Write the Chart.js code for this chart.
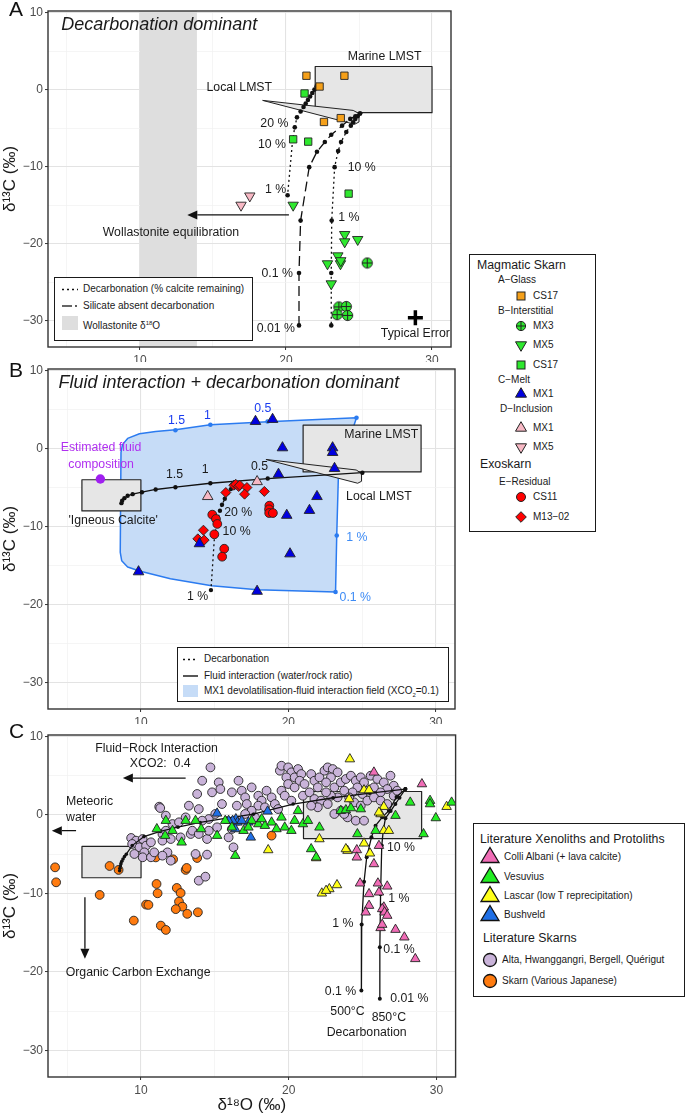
<!DOCTYPE html>
<html>
<head>
<meta charset="utf-8">
<script src="https://cdn.jsdelivr.net/npm/chart.js@4.4.1/dist/chart.umd.min.js"></script>
<style>
  body { margin: 0; background: #fff; font-family: "Liberation Sans", Arial, sans-serif; }
  #wrap { position: relative; width: 685px; height: 1117px; overflow: hidden; }
  canvas { position: absolute; left: 0; }
  .box { position: absolute; border: 1.3px solid #1a1a1a; background: #fff; box-sizing: border-box; }
  .t { position: absolute; font-size: 10px; line-height: 12px; color: #1a1a1a; white-space: nowrap; }
  .h { position: absolute; font-size: 12.3px; line-height: 14px; color: #1a1a1a; white-space: nowrap; }
  svg.s { position: absolute; overflow: visible; }
</style>
</head>
<body>
<div id="wrap">
  <canvas id="chartA" width="462" height="362" style="top:0"></canvas>
  <canvas id="chartB" width="462" height="362" style="top:362px"></canvas>
  <canvas id="chartC" width="462" height="395" style="top:722px"></canvas>

  <!-- legend inside panel A -->
  <div class="box" style="left:54px;top:277px;width:199px;height:64px"></div>
  <svg class="s" style="left:0;top:0" width="1" height="1">
    <line x1="62" y1="289.5" x2="78" y2="289.5" stroke="#111" stroke-width="1.3" stroke-dasharray="2,3"/>
    <line x1="62" y1="306" x2="72" y2="306" stroke="#111" stroke-width="1.3"/>
    <circle cx="76" cy="306" r="0.9" fill="#111"/>
    <rect x="62" y="316" width="16" height="14" fill="#dedede"/>
  </svg>
  <div class="t" style="left:83px;top:283px">Decarbonation (% calcite remaining)</div>
  <div class="t" style="left:83px;top:300px">Silicate absent decarbonation</div>
  <div class="t" style="left:83px;top:317px">Wollastonite δ<sup style="font-size:6px">18</sup>O</div>

  <!-- legend inside panel B -->
  <div class="box" style="left:177px;top:647px;width:272px;height:55px"></div>
  <svg class="s" style="left:0;top:0" width="1" height="1">
    <line x1="183" y1="659.5" x2="198" y2="659.5" stroke="#111" stroke-width="1.3" stroke-dasharray="2,3"/>
    <line x1="183" y1="676" x2="198" y2="676" stroke="#111" stroke-width="1.4"/>
    <rect x="183" y="685" width="15" height="12" fill="#c6dcf7"/>
  </svg>
  <div class="t" style="left:204px;top:653px">Decarbonation</div>
  <div class="t" style="left:204px;top:670px">Fluid interaction (water/rock ratio)</div>
  <div class="t" style="left:204px;top:685px">MX1 devolatilisation-fluid interaction field (XCO<sub style="font-size:6px">2</sub>=0.1)</div>

  <!-- magmatic skarn / exoskarn legend -->
  <div class="box" style="left:469px;top:254px;width:127px;height:278px"></div>
  <div class="h" style="left:477px;top:258px">Magmatic Skarn</div>
  <div class="t" style="left:498px;top:274px">A−Glass</div>
  <svg class="s" style="left:521px;top:296px" width="1" height="1"><rect x="-4" y="-4" width="8" height="8" fill="#f5a01a" stroke="#222" stroke-width="1"/></svg>
  <div class="t" style="left:533px;top:290px">CS17</div>
  <div class="t" style="left:498px;top:305px">B−Interstitial</div>
  <svg class="s" style="left:521px;top:326px" width="1" height="1"><circle r="4.6" fill="#2ee82e" stroke="#222" stroke-width="1"/><path d="M-4.6 0H4.6M0 -4.6V4.6" stroke="#222" stroke-width="1"/></svg>
  <div class="t" style="left:533px;top:320px">MX3</div>
  <svg class="s" style="left:521px;top:345px" width="1" height="1"><polygon points="0,6.3 5.5,-3.2 -5.5,-3.2" fill="#2ee82e" stroke="#222" stroke-width="1"/></svg>
  <div class="t" style="left:533px;top:339px">MX5</div>
  <svg class="s" style="left:521px;top:365px" width="1" height="1"><rect x="-4" y="-4" width="8" height="8" fill="#2ee82e" stroke="#222" stroke-width="1"/></svg>
  <div class="t" style="left:533px;top:359px">CS17</div>
  <div class="t" style="left:498px;top:374px">C−Melt</div>
  <svg class="s" style="left:521px;top:394px" width="1" height="1"><polygon points="0,-6.3 5.5,3.2 -5.5,3.2" fill="#0000e0" stroke="#222" stroke-width="1"/></svg>
  <div class="t" style="left:533px;top:388px">MX1</div>
  <div class="t" style="left:500px;top:403px">D−Inclusion</div>
  <svg class="s" style="left:521px;top:428px" width="1" height="1"><polygon points="0,-6.3 5.5,3.2 -5.5,3.2" fill="#f7b8c4" stroke="#222" stroke-width="1"/></svg>
  <div class="t" style="left:533px;top:422px">MX1</div>
  <svg class="s" style="left:521px;top:447px" width="1" height="1"><polygon points="0,6.3 5.5,-3.2 -5.5,-3.2" fill="#f7b8c4" stroke="#222" stroke-width="1"/></svg>
  <div class="t" style="left:533px;top:441px">MX5</div>
  <div class="h" style="left:480px;top:457px">Exoskarn</div>
  <div class="t" style="left:499px;top:476px">E−Residual</div>
  <svg class="s" style="left:521px;top:497px" width="1" height="1"><circle r="4.5" fill="#ff0000" stroke="#222" stroke-width="1"/></svg>
  <div class="t" style="left:533px;top:491px">CS11</div>
  <svg class="s" style="left:521px;top:517px" width="1" height="1"><polygon points="0,-5.3 5.3,0 0,5.3 -5.3,0" fill="#ff0000" stroke="#222" stroke-width="1"/></svg>
  <div class="t" style="left:533px;top:511px">M13−02</div>

  <!-- literature legend -->
  <div class="box" style="left:473px;top:823px;width:212px;height:174px"></div>
  <div class="h" style="left:480px;top:832px">Literature Xenoliths and Protoliths</div>
  <svg class="s" style="left:490px;top:857px" width="1" height="1"><polygon points="0,-9.5 9,5.5 -9,5.5" fill="#f06cb6" stroke="#111" stroke-width="1.3"/></svg>
  <div class="t" style="left:504px;top:851px">Colli Albani (+ lava calcite)</div>
  <svg class="s" style="left:490px;top:877px" width="1" height="1"><polygon points="0,-9.5 9,5.5 -9,5.5" fill="#22ee22" stroke="#111" stroke-width="1.3"/></svg>
  <div class="t" style="left:504px;top:871px">Vesuvius</div>
  <svg class="s" style="left:490px;top:896px" width="1" height="1"><polygon points="0,-9.5 9,5.5 -9,5.5" fill="#ffff1a" stroke="#111" stroke-width="1.3"/></svg>
  <div class="t" style="left:504px;top:890px">Lascar (low T reprecipitation)</div>
  <svg class="s" style="left:490px;top:915px" width="1" height="1"><polygon points="0,-9.5 9,5.5 -9,5.5" fill="#1f6fe6" stroke="#111" stroke-width="1.3"/></svg>
  <div class="t" style="left:504px;top:909px">Bushveld</div>
  <div class="h" style="left:483px;top:931px">Literature Skarns</div>
  <svg class="s" style="left:490px;top:960px" width="1" height="1"><circle r="6.5" fill="#c9b3d9" stroke="#111" stroke-width="1.3"/></svg>
  <div class="t" style="left:502px;top:954px">Alta, Hwanggangri, Bergell, Quérigut</div>
  <svg class="s" style="left:490px;top:981px" width="1" height="1"><circle r="6.5" fill="#ff7b0f" stroke="#111" stroke-width="1.3"/></svg>
  <div class="t" style="left:502px;top:975px">Skarn (Various Japanese)</div>
</div>

<script>
// shared axes
const xRange = [3.7, 31.3];
const yRange = [-33.4, 10.2];
const xTicks = [5, 10, 15, 20, 25, 30];
const yTicks = [-30, -25, -20, -15, -10, -5, 0, 5, 10];

// ---- panel A : decarbonation dominant ----
const aGlassCS17 = [[21.4, 1.8], [24.0, 1.8], [22.3, 0.4], [22.6, -4.2], [23.75, -3.7]];
const aInterMX3 = [[25.56, -22.5], [23.62, -28.2], [24.13, -28.15], [23.5, -29.2], [24.22, -29.3]];
const aInterMX5 = [[20.49, -15.0], [24.02, -18.8], [24.02, -19.75], [24.91, -19.45], [23.55, -21.57],
  [22.84, -22.6], [23.73, -22.6], [23.75, -22.2], [23.1, -25.2]];
const aInterCS17 = [[21.27, -0.5], [20.49, -6.45], [21.52, -6.75], [24.29, -13.5]];
const aInclMX5 = [[16.92, -15.0], [17.52, -13.8]];
const aDecarbLeft = [[22.1, 0.45], [21.95, 0.0], [21.8, -0.45], [21.65, -0.9], [21.5, -1.35], [21.35, -1.8],
  [21.2, -2.25], [21.0, -2.85], [20.75, -3.6], [20.6, -4.9], [20.45, -6.6], [20.11, -13.7]];
const aSilicateAbsent = [[25.07, -3.1], [24.75, -3.45], [24.4, -3.8], [23.84, -4.68], [23.1, -5.86], [22.66, -6.8],
  [22.12, -8.06], [21.59, -10.06], [21.0, -17.0], [20.89, -23.8], [20.89, -30.6]];
const aDecarbRight = [[25.07, -3.1], [24.9, -3.45], [24.74, -3.82], [24.6, -4.25], [24.44, -4.68], [24.13, -5.5],
  [23.77, -6.8], [23.57, -7.98], [23.33, -10.06], [23.13, -17.0], [23.1, -23.8], [23.1, -30.6]];
const aMarineLMST = [[22, -3], [30, -3], [30, 3], [22, 3]];
const aLocalLMST = [[18.4, -1.4], [24.6, -2.7], [25.0, -3.1], [25.0, -4.2], [24.7, -4.5]];
const wollastoniteO = [10, 13.9];
const aTypicalError = [[28.86, -29.6]];
const aArrow = [[20.2, -16.26], [13.24, -16.26]];
const aLabels = [
  ['Marine LMST', 26.75, 4.24], ['Local LMST', 16.8, 0.3],
  ['20 %', 19.2, -4.37], ['10 %', 19.04, -7.13], ['1 %', 19.28, -13.04],
  ['10 %', 25.18, -10.06], ['1 %', 24.31, -16.56], ['0.1 %', 19.4, -23.9], ['0.01 %', 19.3, -31.0],
  ['Wollastonite equilibration', 12.12, -18.56], ['Typical Error', 28.86, -31.63]
];

// ---- panel B : fluid interaction + decarbonation ----
const bMeltMX1 = [[17.77, 3.48], [18.93, 3.74], [19.6, 0.1], [23.0, 0.1], [23.0, -0.5], [23.13, -2.55],
  [19.33, -3.3], [21.94, -6.15], [21.43, -7.93], [19.89, -8.56], [20.11, -13.5], [17.88, -18.3],
  [9.84, -15.8], [13.97, -12.2]];
const bInclMX1 = [[14.53, -6.15], [17.88, -4.24]];
const bResCS11 = [[14.84, -8.48], [15.09, -9.03], [15.18, -9.67], [14.98, -11.0], [15.65, -12.85],
  [15.51, -13.87], [18.71, -7.33], [18.69, -7.8], [18.7, -8.27], [18.95, -8.27]];
const bResM1302 = [[15.76, -5.64], [16.3, -4.7], [16.43, -4.58], [16.63, -4.87], [16.7, -4.7], [17.19, -5.0],
  [17.03, -5.85], [18.37, -5.5], [14.24, -10.47], [13.86, -11.58], [14.29, -11.74]];
const bFluidComp = [[7.25, -3.9]];
const bField = [[8.6, -13.3], [8.7, -14.4], [9.1, -15.2], [9.9, -15.7], [12.0, -16.7], [14.8, -17.6],
  [17.9, -18.1], [23.2, -18.4], [23.28, -11.15], [23.4, -3.0], [24.62, 3.94], [18.6, 3.45], [14.71, 3.05],
  [12.34, 2.4], [11.0, 2.2], [9.9, 1.9], [9.1, 1.3], [8.75, 0.5], [8.65, -0.5]];
const bFieldDots = [[12.34, 2.34], [14.71, 3.05], [18.59, 3.47], [24.62, 3.94], [23.28, -11.15], [23.2, -18.4]];
const bFluid = [[25.02, -3.1], [18.6, -3.85], [14.71, -4.45], [12.34, -4.96], [11.0, -5.25], [10.07, -5.6],
  [9.44, -5.85], [9.1, -6.06], [8.88, -6.36], [8.73, -6.7], [8.68, -7.0]];
const bDecarb = [[16.4, -4.6], [16.1, -5.2], [15.87, -5.72], [15.69, -6.44], [15.5, -7.2], [15.36, -7.97],
  [15.0, -11.0], [14.75, -18.15]];
const bMarineLMST = [[21, -3], [29, -3], [29, 3], [21, 3]];
const bLocalLMST = [[18.48, -1.4], [24.6, -2.75], [24.96, -3.18], [24.96, -4.2], [24.7, -4.45]];
const igneousCalcite = [[6, -4], [10, -4], [10, -8], [6, -8]];
const bLabels = [
  ['Marine LMST', 26.3, 1.78], ['Local LMST', 26.14, -6.15], ["'Igneous Calcite'", 8.12, -9.24],
  ['1.5', 12.28, -3.39], ['1', 14.35, -2.75], ['0.5', 18.04, -2.33],
  ['20 %', 16.6, -8.26], ['10 %', 16.49, -10.68], ['1 %', 13.84, -18.98]
];
const bBlueLabels = [['1.5', 12.41, 3.52], ['1', 14.51, 4.24], ['0.5', 18.26, 5.08]];
const bFieldLabels = [['1 %', 24.65, -11.36], ['0.1 %', 24.54, -19.15]];
const bFluidLabels = [['Estimated fluid', 7.3, 0.18], ['composition', 7.3, -2.1]];

// ---- panel C : literature ----
const cColliAlbani = [[25.77, 5.44], [29.02, 3.95], [26.11, -3.91], [24.61, -4.46], [24.61, -5.39], [25.77, -6.24],
  [24.83, -8.7], [25.44, -10.06], [26.04, -8.7], [26.67, -9.09], [26.11, -9.85], [26.44, -11.76], [25.44, -11.55],
  [25.21, -12.4], [26.33, -11.97], [26.49, -12.4], [26.67, -12.82], [26.22, -14.39], [27.23, -14.61],
  [27.83, -15.58], [28.57, -18.34], [26.33, -13.97]];
const cVesuvius = [[11.07, -1.78], [11.68, -0.72], [11.63, -2.63], [12.13, -2.0], [12.75, -3.48], [14.07, -1.78],
  [15.15, -2.63], [15.7, -0.72], [16.15, -1.57], [16.38, -5.18], [16.94, -2.0], [17.49, -0.72], [17.94, -1.15],
  [18.39, -1.36], [18.84, -0.93], [19.17, -1.78], [19.51, -0.3], [19.73, -1.57], [20.18, -2.0], [20.4, -0.72],
  [20.63, 0.55], [20.96, -1.15], [21.3, -0.72], [22.08, -1.57], [21.52, -4.33], [21.86, -5.39], [23.53, 0.55],
  [23.87, 0.64], [24.21, 0.89], [24.88, 0.76], [24.65, -2.42], [25.88, -2.0], [27.23, -0.08], [28.23, 1.61],
  [29.13, -2.42], [29.57, 1.83], [29.96, -0.38], [31.03, 1.61], [29.57, 1.4], [13.02, -0.72], [13.69, -0.72],
  [17.27, -1.57], [18.17, -0.51]];
const cLascar = [[24.14, 7.13], [24.09, 2.04], [25.1, 3.18], [25.44, 3.18], [26.44, 1.06], [26.22, 0.13],
  [26.44, -2.0], [26.78, -2.0], [26.11, 0.34], [25.1, -3.61], [25.5, -4.88], [23.98, -4.54], [23.87, -4.33],
  [22.08, -3.06], [21.86, -5.48], [18.61, -4.46], [22.24, -9.98], [22.75, -9.43], [23.27, -8.92],
  [22.53, -9.64], [30.69, 1.06]];
const cBushveld = [[15.15, 0.21], [16.42, -0.51], [16.53, -0.93], [16.2, -0.72], [16.38, -1.78], [17.27, -0.93],
  [17.43, -2.85], [18.57, 0.47], [15.93, -0.72], [16.82, -0.72]];
const cAltaEtc = [[9.33, -2.93], [9.66, -3.27], [9.4, -3.69], [9.89, -4.12], [10.11, -3.06], [10.34, -3.91],
  [10.67, -3.48], [10.22, -4.76], [9.55, -4.97], [10.11, -5.39], [10.67, -5.39], [10.89, -4.76], [11.23, 1.06],
  [11.3, 0.89], [11.45, -2.42], [11.68, -2.0], [11.45, -3.27], [12.01, -3.06], [11.79, -4.76], [11.45, -5.18],
  [12.01, -5.82], [11.68, -0.08], [12.13, -1.15], [12.57, -0.93], [12.68, -2.85], [13.36, -2.42], [13.02, -0.3],
  [13.24, 1.19], [13.8, 2.68], [13.91, 0.76], [14.14, 4.37], [14.7, 6.07], [14.81, 2.89], [15.26, 4.16],
  [15.37, 3.31], [14.59, -0.51], [15.15, -1.57], [14.47, -3.06], [13.69, -4.97], [14.47, -5.05], [13.91, -8.37],
  [14.36, -7.86], [13.47, -2.0], [13.91, -2.42], [14.14, -0.72], [14.59, -2.0], [15.03, 0.13], [15.48, 1.4],
  [16.15, 2.89], [16.6, 4.37], [16.82, 3.1], [17.05, 2.25], [16.49, 1.19], [17.16, 1.4], [17.49, 3.52],
  [17.94, 2.46], [18.17, 1.83], [18.5, 3.1], [18.84, 2.25], [19.06, 1.4], [17.94, 1.19], [18.39, 0.98],
  [17.49, 0.55], [17.05, 0.13], [16.6, -0.72], [16.15, -1.78], [15.93, -2.85], [16.26, -4.12], [17.72, -0.3],
  [19.51, 3.1], [19.4, 5.65], [19.51, 6.28], [19.96, 6.07], [20.18, 5.44], [19.84, 4.8], [20.4, 4.8],
  [20.63, 5.86], [20.85, 5.22], [20.74, 4.37], [19.96, 3.95], [20.4, 3.52], [19.73, 2.46], [20.18, 1.83],
  [19.28, 0.76], [21.07, 3.95], [20.96, 2.46], [21.41, 2.89], [21.74, 2.04], [21.52, 5.22], [21.74, 4.37],
  [22.08, 4.8], [22.42, 5.65], [22.64, 6.07], [22.98, 5.86], [23.31, 5.44], [22.86, 4.8], [22.53, 4.16],
  [21.97, 3.52], [23.09, 3.52], [23.53, 4.16], [23.87, 4.59], [24.21, 5.01], [24.54, 4.37], [24.88, 4.8],
  [25.1, 4.16], [25.55, 5.01], [26.0, 4.59], [26.44, 4.16], [26.89, 5.01], [27.11, 3.74], [26.67, 3.31],
  [26.22, 2.89], [25.77, 3.52], [25.32, 3.1], [24.99, 2.68], [24.65, 3.52], [24.32, 2.89], [23.76, 3.1],
  [23.31, 2.25], [22.86, 2.46], [22.53, 2.89], [22.19, 1.83], [22.64, 1.4], [23.09, 0.13], [23.53, 0.55],
  [23.98, -0.3], [24.54, -0.72], [25.1, -0.72], [24.43, 1.61], [24.88, 1.19], [25.32, 1.83], [25.77, 2.25],
  [26.22, 1.83], [26.67, 1.4], [27.11, 2.46], [27.34, 3.1], [24.09, 2.25], [23.76, 0.13], [21.97, 0.98],
  [21.52, 1.19]];
const cJapanese = [[4.18, -6.67], [4.25, -8.58], [7.2, -10.19], [7.87, -6.5], [8.48, -7.0], [9.51, -13.46],
  [10.34, -11.42], [10.5, -11.46], [11.0, -5.4], [11.05, -8.79], [11.12, -9.98], [11.34, -14.1], [11.68, -14.65],
  [12.17, -5.65], [12.42, -9.3], [12.68, -9.94], [12.57, -11.04], [12.8, -11.68], [12.35, -12.0], [13.13, -12.6],
  [13.02, -7.0], [13.09, -6.75], [13.85, -12.4], [13.8, -5.48], [18.84, -2.63]];
const cFluidRock = [[8.55, -7.1], [8.57, -6.8], [8.6, -6.5], [8.64, -6.2], [8.7, -5.9], [8.78, -5.6], [8.88, -5.3],
  [9.0, -5.0], [9.4, -3.9], [10.2, -2.75], [11.3, -2.1], [12.5, -1.55], [14.0, -0.95], [15.8, -0.4], [17.6, 0.1],
  [20.3, 1.4], [23.0, 2.2], [25.5, 2.8], [27.9, 3.3]];
const cDecarb500 = [[27.9, 3.3], [27.3, 2.3], [26.78, 0.55], [26.33, -0.3], [25.88, -1.36], [25.6, -2.85],
  [25.28, -5.4], [25.1, -8.5], [24.94, -13.97], [24.92, -22.38]];
const cDecarb850 = [[27.9, 3.3], [27.5, 2.2], [27.22, 1.4], [26.9, 0.5], [26.55, -0.4], [26.4, -2.0], [26.3, -3.9],
  [26.22, -10.1], [26.17, -16.86], [26.17, -23.44]];
const cMarineLMST = [[21, -3], [29, -3], [29, 3], [21, 3]];
const cArrows = [[[13.02, 4.71], [8.77, 4.71]], [[5.6, -2.0], [3.96, -2.0]], [[6.2, -10.49], [6.2, -18.34]]];
const cLabels = [
  ['Fluid\u2212Rock Interaction', 11.05, 8.49], ['XCO2:  0.4', 11.3, 6.5],
  ['Organic Carbon Exchange', 9.8, -20.04],
  ['10 %', 27.6, -4.12], ['1 %', 27.45, -10.6], ['1 %', 23.67, -13.89], ['0.1 %', 27.47, -17.2],
  ['0.1 %', 23.51, -22.46], ['0.01 %', 28.17, -23.44], ['500°C', 23.98, -25.0], ['850°C', 26.78, -25.86],
  ['Decarbonation', 25.28, -27.77]
];
const cLeftLabels = [['Meteoric', 4.92, 1.66], ['water', 4.92, -0.3]];

const FONT = '"Liberation Sans", Arial, sans-serif';
const INK = '#1a1a1a';
const EDGE = '#222';

const xy = arr => arr.map(([x, y]) => ({ x, y }));
const band = ([x0, x1]) => [[x0, yRange[0]], [x1, yRange[0]], [x1, yRange[1]], [x0, yRange[1]]];
const txt = (list, extra) => list.map(([t, x, y]) => Object.assign({ t, x, y }, extra || {}));

function markers(data, style, fill, r, extra) {
  return Object.assign({
    type: 'scatter', data: xy(data), pointStyle: style, pointRadius: r,
    pointBackgroundColor: fill, pointBorderColor: EDGE, pointBorderWidth: 0.9, order: 1
  }, extra || {});
}
function curve(data, extra) {
  return Object.assign({
    type: 'line', data: xy(data), borderColor: '#111', borderWidth: 1.3, pointRadius: 2.3,
    pointBackgroundColor: '#111', pointBorderWidth: 0, fill: false, tension: 0, order: 5
  }, extra || {});
}
function crossCircle(fill) {
  const c = document.createElement('canvas');
  c.width = c.height = 13;
  const g = c.getContext('2d');
  g.beginPath(); g.arc(6.5, 6.5, 5.1, 0, Math.PI * 2);
  g.fillStyle = fill; g.fill();
  g.lineWidth = 1; g.strokeStyle = EDGE; g.stroke();
  g.beginPath(); g.moveTo(1.4, 6.5); g.lineTo(11.6, 6.5); g.moveTo(6.5, 1.4); g.lineTo(6.5, 11.6); g.stroke();
  return c;
}

// shapes, arrows, labels, frame and panel letter
const decor = {
  id: 'decor',
  beforeDatasetsDraw(chart, args, o) {
    const { ctx, chartArea: a, scales: { x, y } } = chart;
    ctx.save();
    ctx.beginPath(); ctx.rect(a.left, a.top, a.width, a.height); ctx.clip();
    (o.shapes || []).forEach(s => {
      ctx.beginPath();
      s.pts.forEach(([px, py], i) => {
        const X = x.getPixelForValue(px), Y = y.getPixelForValue(py);
        i ? ctx.lineTo(X, Y) : ctx.moveTo(X, Y);
      });
      ctx.closePath();
      if (s.fill) { ctx.fillStyle = s.fill; ctx.fill(); }
      if (s.stroke) { ctx.strokeStyle = s.stroke; ctx.lineWidth = s.width || 1; ctx.lineJoin = 'round'; ctx.stroke(); }
    });
    ctx.restore();
  },
  afterDatasetsDraw(chart, args, o) {
    const { ctx, chartArea: a, scales: { x, y } } = chart;
    ctx.save();
    ctx.beginPath(); ctx.rect(a.left, a.top, a.width, a.height); ctx.clip();
    (o.arrows || []).forEach(([p0, p1]) => {
      const x0 = x.getPixelForValue(p0[0]), y0 = y.getPixelForValue(p0[1]);
      const x1 = x.getPixelForValue(p1[0]), y1 = y.getPixelForValue(p1[1]);
      const ang = Math.atan2(y1 - y0, x1 - x0), L = 10, W = 4.5;
      ctx.strokeStyle = '#111'; ctx.fillStyle = '#111'; ctx.lineWidth = 1.3;
      ctx.beginPath(); ctx.moveTo(x0, y0);
      ctx.lineTo(x1 - Math.cos(ang) * L, y1 - Math.sin(ang) * L); ctx.stroke();
      ctx.beginPath(); ctx.moveTo(x1, y1);
      ctx.lineTo(x1 - Math.cos(ang) * L - Math.sin(ang) * W, y1 - Math.sin(ang) * L + Math.cos(ang) * W);
      ctx.lineTo(x1 - Math.cos(ang) * L + Math.sin(ang) * W, y1 - Math.sin(ang) * L - Math.cos(ang) * W);
      ctx.closePath(); ctx.fill();
    });
    ctx.restore();
    ctx.save();
    ctx.textBaseline = 'middle';
    (o.texts || []).forEach(t => {
      ctx.font = (t.style || '') + ' ' + (t.size || 12.3) + 'px ' + FONT;
      ctx.fillStyle = t.color || INK;
      ctx.textAlign = t.align || 'center';
      ctx.fillText(t.t, x.getPixelForValue(t.x), y.getPixelForValue(t.y));
    });
    ctx.restore();
  },
  afterDraw(chart, args, o) {
    const { ctx, chartArea: a } = chart;
    ctx.save();
    ctx.strokeStyle = '#333'; ctx.lineWidth = 1.4;
    ctx.strokeRect(a.left, a.top, a.width, a.height);
    ctx.font = '21px ' + FONT; ctx.fillStyle = '#111';
    ctx.textAlign = 'left'; ctx.textBaseline = 'alphabetic';
    ctx.fillText(o.letter, 9, o.letterY);
    ctx.restore();
  }
};
Chart.register(decor);

const isMajor = c => c.tick && c.tick.value % 10 === 0;
const fmt = v => v % 10 === 0 ? (v < 0 ? '\u2212' + (-v) : String(v)) : '';

function axes(xHeight, xTitle) {
  const grid = {
    color: c => isMajor(c) ? '#e3e3e3' : '#f0f0f0',
    lineWidth: c => isMajor(c) ? 1.1 : 0.7,
    tickColor: c => isMajor(c) ? '#333' : 'rgba(0,0,0,0)',
    tickWidth: 1, tickLength: 3, drawTicks: true
  };
  const ticks = { callback: fmt, font: { family: FONT, size: 12 }, color: '#4d4d4d', autoSkip: false, maxRotation: 0 };
  return {
    x: {
      type: 'linear', min: xRange[0], max: xRange[1],
      afterBuildTicks: s => { s.ticks = xTicks.map(v => ({ value: v })); },
      afterFit: s => { s.height = xHeight; s.paddingLeft = 0; s.paddingRight = 0; },
      ticks: Object.assign({ padding: 3 }, ticks), grid, border: { display: false },
      title: xTitle ? { display: true, text: xTitle, font: { family: FONT, size: 17 }, color: INK, padding: { top: 0, bottom: 1 } } : { display: false }
    },
    y: {
      type: 'linear', min: yRange[0], max: yRange[1],
      afterBuildTicks: s => { s.ticks = yTicks.map(v => ({ value: v })); },
      afterFit: s => { s.width = 48; s.paddingTop = 0; s.paddingBottom = 0; },
      ticks: Object.assign({ padding: 2 }, ticks), grid, border: { display: false },
      title: { display: true, text: 'δ¹³C (‰)', font: { family: FONT, size: 17 }, color: INK, padding: { top: 0, bottom: 0 } }
    }
  };
}

function makeChart(id, padTop, xHeight, xTitle, datasets, decorOpts) {
  return new Chart(document.getElementById(id).getContext('2d'), {
    type: 'scatter',
    data: { datasets },
    options: {
      responsive: false, animation: false, events: [],
      layout: { padding: { top: padTop, right: 3, left: 0, bottom: 0 } },
      plugins: { legend: { display: false }, tooltip: { enabled: false }, decor: decorOpts },
      scales: axes(xHeight, xTitle)
    }
  });
}

// panel A
makeChart('chartA', 5, 15, null, [
  markers(aGlassCS17, 'rect', '#f5a01a', 5.2),
  markers(aInterMX3, crossCircle('#2ee82e'), '#2ee82e', 5),
  markers(aInterMX5, 'triangle', '#2ee82e', 6, { pointRotation: 180 }),
  markers(aInterCS17, 'rect', '#2ee82e', 5.2),
  markers(aInclMX5, 'triangle', '#f7b8c4', 6, { pointRotation: 180 }),
  markers(aTypicalError, 'cross', '#000', 7.5, { pointBorderColor: '#000', pointBorderWidth: 3.5 }),
  curve(aDecarbLeft, { borderDash: [2, 3] }),
  curve(aSilicateAbsent, { borderDash: [10, 5] }),
  curve(aDecarbRight, { borderDash: [2, 3] })
], {
  letter: 'A', letterY: 16,
  shapes: [
    { pts: band(wollastoniteO), fill: '#dedede' },
    { pts: aMarineLMST, fill: '#e6e6e6', stroke: EDGE, width: 1.2 },
    { pts: aLocalLMST, fill: '#e6e6e6', stroke: EDGE, width: 1 }
  ],
  arrows: [aArrow],
  texts: txt(aLabels).concat(txt([['Decarbonation dominant', 4.6, 8.43]], { align: 'left', size: 18, style: 'italic' }))
});

// panel B
makeChart('chartB', 5, 15, null, [
  markers(bMeltMX1, 'triangle', '#0000e0', 6.1),
  markers(bInclMX1, 'triangle', '#f7b8c4', 6.1),
  markers(bResCS11, 'circle', '#ff0000', 4.4),
  markers(bResM1302, 'rectRot', '#ff0000', 5),
  markers(bFluidComp, 'circle', '#a020f0', 4.7, { pointBorderWidth: 0 }),
  markers(bFieldDots, 'circle', '#2b7bf0', 2.3, { pointBorderWidth: 0, order: 4 }),
  curve(bFluid, { pointRadius: 2.2 }),
  curve(bDecarb, { borderDash: [2, 3], pointRadius: 2.2 })
], {
  letter: 'B', letterY: 15,
  shapes: [
    { pts: bField, fill: '#c6dcf7', stroke: '#2b7bf0', width: 1.5 },
    { pts: bMarineLMST, fill: '#e6e6e6', stroke: EDGE, width: 1.2 },
    { pts: bLocalLMST, fill: '#e6e6e6', stroke: EDGE, width: 1 },
    { pts: igneousCalcite, stroke: EDGE, width: 1.2 }
  ],
  texts: txt(bLabels)
    .concat(txt(bBlueLabels, { color: '#1a3cf0' }))
    .concat(txt(bFieldLabels, { color: '#3d8bf5' }))
    .concat(txt(bFluidLabels, { color: '#b030f0' }))
    .concat(txt([['Fluid interaction + decarbonation dominant', 4.41, 8.38]], { align: 'left', size: 18, style: 'italic' }))
});

// panel C
makeChart('chartC', 13, 40, 'δ¹⁸O (‰)', [
  markers(cColliAlbani, 'triangle', '#f06cb6', 5.5),
  markers(cVesuvius, 'triangle', '#22ee22', 5.5),
  markers(cLascar, 'triangle', '#ffff1a', 5.5),
  markers(cBushveld, 'triangle', '#1f6fe6', 5.5),
  curve(cFluidRock, { pointRadius: 1.8, order: 1.5 }),
  curve(cDecarb500, { pointRadius: 2, order: 1.5 }),
  curve(cDecarb850, { pointRadius: 2, order: 1.5 }),
  markers(cAltaEtc, 'circle', '#c9b3d9', 4.4, { order: 2 }),
  markers(cJapanese, 'circle', '#ff7b0f', 4.4, { order: 2 })
], {
  letter: 'C', letterY: 16,
  shapes: [
    { pts: cMarineLMST, fill: '#e6e6e6', stroke: EDGE, width: 1.2 },
    { pts: igneousCalcite, stroke: EDGE, width: 1.2 }
  ],
  arrows: cArrows,
  texts: txt(cLabels).concat(txt(cLeftLabels, { align: 'left' }))
});
</script>
</body>
</html>
